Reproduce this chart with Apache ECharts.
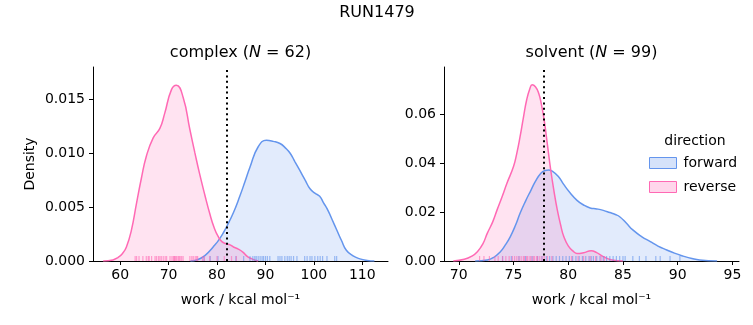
<!DOCTYPE html>
<html>
<head>
<meta charset="utf-8">
<script src="https://cdn.jsdelivr.net/npm/echarts@6/dist/echarts.min.js"></script>
<style>html,body{margin:0;padding:0;background:#fff}#c{width:753px;height:325px}</style>
</head>
<body>
<div id="c"></div>
<script>
// ---- Data ----
const complexXTicks = [60, 70, 80, 90, 100, 110];
const complexYTicks = [0, 0.005, 0.010, 0.015];
const solventXTicks = [70, 75, 80, 85, 90, 95];
const solventYTicks = [0, 0.02, 0.04, 0.06];

const complexDeltaF = 82.06;
const solventDeltaF = 77.75;

const complexRevKdeX = [56.5,58.5,59.5,60.5,61.3,62.3,63.4,64.4,65.4,66.8,68.2,69.2,70.6,71.6,73.0,74.4,75.4,76.4,77.5,78.5,79.4,80.2,81.0,81.9,82.7,83.4,84.4,85.4,86.3,87.2,88.5];
const complexRevKdeY = [0,0.0001,0.0003,0.0007,0.0013,0.0028,0.0054,0.0077,0.0097,0.0114,0.0123,0.0137,0.0159,0.0163,0.0152,0.0122,0.0101,0.0081,0.0061,0.0044,0.0031,0.0023,0.0018,0.0016,0.0015,0.0013,0.0011,0.0008,0.0004,0.0002,0];
const complexFwdKdeX = [74.5,75.8,77.5,79.2,80.6,82.0,83.4,84.7,85.8,86.8,88.5,90.2,91.6,93.0,94.1,95.1,96.1,97.1,98.2,99.2,100.2,101.2,102.0,102.9,103.8,104.7,105.7,106.7,108.0,109.5,111.0,112.5];
const complexFwdKdeY = [0,0.0001,0.0005,0.0013,0.0021,0.0032,0.0045,0.0060,0.0074,0.0087,0.0106,0.0112,0.0111,0.0109,0.0105,0.0100,0.0092,0.0084,0.0075,0.0067,0.0063,0.0060,0.0054,0.0047,0.0038,0.0029,0.0019,0.0010,0.0005,0.0002,0.00005,0];

const solventRevKdeX = [69.5,70.5,71.2,71.7,72.2,72.6,73.1,73.5,74.0,74.4,75.0,75.3,75.6,75.9,76.2,76.5,76.7,77.0,77.3,77.55,77.8,78.1,78.4,78.7,79.0,79.3,79.6,80.0,80.5,80.8,81.4,82.1,82.6,83.2,84.0,85.0];
const solventRevKdeY = [0,0.0007,0.0020,0.0038,0.0070,0.0113,0.0160,0.0209,0.0268,0.0318,0.0386,0.0440,0.0508,0.0585,0.0658,0.0705,0.0720,0.0712,0.0686,0.0640,0.0577,0.0475,0.0372,0.0285,0.0209,0.0148,0.0099,0.0062,0.0038,0.0031,0.0034,0.0042,0.0034,0.0018,0.0004,0];
const solventFwdKdeX = [71.5,72.6,73.2,73.8,74.2,74.7,75.2,75.6,76.1,76.6,77.0,77.5,77.9,78.2,78.6,79.1,79.6,80.2,80.8,81.4,82.0,82.6,83.2,83.8,84.3,84.7,85.3,85.9,86.7,87.5,88.2,89.0,89.7,90.5,91.3,92.0,93.6];
const solventFwdKdeY = [0,0.0004,0.0015,0.0038,0.0062,0.0099,0.0148,0.0195,0.0245,0.0290,0.0325,0.0359,0.0370,0.0372,0.0365,0.0345,0.0312,0.0277,0.0248,0.0229,0.0217,0.0213,0.0207,0.0198,0.0190,0.0181,0.0155,0.0127,0.0100,0.0079,0.0061,0.0045,0.0032,0.0020,0.0010,0.0004,0];

const complexRevRug = [63.1,63.4,63.9,64.7,65.4,65.8,66.0,66.5,67.2,67.5,67.9,68.2,68.5,68.9,69.3,69.6,70.3,70.7,71.0,71.2,71.3,71.5,71.7,72.0,72.2,72.4,72.7,73.0,74.4,74.8,75.1,75.5,75.8,76.0,77.0,77.4,78.5,80.0,81.5,83.0,84.0];
const complexFwdRug = [77.3,78.6,80.2,83.9,85.5,86.8,87.4,87.8,88.1,88.5,88.9,89.3,89.6,90.0,90.4,90.9,92.6,93.0,93.4,94.0,94.5,94.9,95.3,95.8,96.5,98.1,98.6,99.2,99.6,100.2,100.8,101.3,101.8,102.7,104.3,104.7];
const solventRevRug = [71.9,72.3,72.8,73.3,73.6,74.0,74.3,74.6,74.9,75.1,75.3,75.5,75.7,75.9,76.0,76.2,76.3,76.5,76.6,76.8,76.9,77.1,77.2,77.4,77.6,77.8,78.1,78.5,80.3,80.9,81.4,82.0,82.5,83.0,83.3];
const solventFwdRug = [74.0,74.8,75.5,76.1,76.7,77.2,77.6,78.0,78.3,78.6,78.9,79.2,79.5,79.8,80.1,80.4,80.7,81.0,81.3,81.6,81.9,82.1,82.3,82.6,82.9,83.2,83.5,83.8,84.1,84.4,84.7,85.0,85.2,85.9,86.5,87.1,88.0,88.4,89.3,90.2];

// ---- Styles ----
const FWD = '#6495ED', REV = '#FF69B4';
const FWD_FILL = 'rgba(100,149,237,0.27)', REV_FILL = 'rgba(255,105,180,0.27)';
const FONT = 'DejaVu Sans';

function pairs(xs, ys) { return xs.map((x, i) => [x, ys[i]]); }
function rug(vals) { return vals.map(v => [v, 0]); }

function kde(name, xs, ys, color, fill, idx, markX) {
  const s = {
    type: 'line', name: name, xAxisIndex: idx, yAxisIndex: idx,
    data: pairs(xs, ys), smooth: 0.5, showSymbol: false, symbol: 'none',
    lineStyle: { color: color, width: 1.5 }, itemStyle: { color: color },
    areaStyle: { color: fill, origin: 'start' }, silent: true, z: 2
  };
  if (markX !== undefined) {
    s.markLine = {
      silent: true, symbol: ['none', 'none'], label: { show: false },
      lineStyle: { color: '#000', type: [2, 3.4], width: 2 },
      data: [{ xAxis: markX }], animation: false
    };
  }
  return s;
}
function rugSeries(name, vals, color, idx) {
  return {
    type: 'scatter', name: name, xAxisIndex: idx, yAxisIndex: idx,
    data: rug(vals), symbol: 'rect', symbolSize: [1.2, 5], symbolOffset: [0, -2.5],
    itemStyle: { color: color, opacity: 0.6 }, silent: true, z: 3
  };
}
function xAxis(idx, min, max, ticks) {
  return {
    type: 'value', gridIndex: idx, min: min, max: max,
    name: 'work / kcal mol\u207B\u00B9', nameLocation: 'middle', nameGap: 32,
    nameTextStyle: { fontFamily: FONT, fontSize: 14, color: '#000' },
    axisLine: { show: true, lineStyle: { color: '#000', width: 1 } },
    axisTick: { show: true, length: 4, lineStyle: { color: '#000', width: 1 }, customValues: ticks },
    axisLabel: { fontFamily: FONT, fontSize: 14, color: '#000', margin: 7, customValues: ticks, formatter: v => String(Math.round(v)) },
    splitLine: { show: false }
  };
}
function yAxis(idx, max, ticks, dec, name) {
  return {
    type: 'value', gridIndex: idx, min: 0, max: max,
    name: name || '', nameLocation: 'middle', nameGap: 56,
    nameTextStyle: { fontFamily: FONT, fontSize: 14, color: '#000' },
    axisLine: { show: true, lineStyle: { color: '#000', width: 1 } },
    axisTick: { show: true, length: 4, lineStyle: { color: '#000', width: 1 }, customValues: ticks },
    axisLabel: { fontFamily: FONT, fontSize: 14, color: '#000', margin: 8, customValues: ticks, formatter: v => v.toFixed(dec) },
    splitLine: { show: false }
  };
}

const chart = echarts.init(document.getElementById('c'), null, { renderer: 'canvas' });
chart.setOption({
  animation: false,
  backgroundColor: '#fff',
  title: [
    { text: 'RUN1479', left: 377, top: 5, padding: 0, textAlign: 'center', textStyle: { fontFamily: FONT, fontSize: 16, fontWeight: 'normal', color: '#000' } },
    { text: 'complex ({i|N} = 62)', left: 240.5, top: 45, padding: 0, textAlign: 'center',
      textStyle: { fontFamily: FONT, fontSize: 16, fontWeight: 'normal', color: '#000', rich: { i: { fontFamily: FONT, fontSize: 16, fontStyle: 'italic', color: '#000' } } } },
    { text: 'solvent ({i|N} = 99)', left: 591.5, top: 45, padding: 0, textAlign: 'center',
      textStyle: { fontFamily: FONT, fontSize: 16, fontWeight: 'normal', color: '#000', rich: { i: { fontFamily: FONT, fontSize: 16, fontStyle: 'italic', color: '#000' } } } },
    { text: 'direction', left: 695, top: 134, padding: 0, textAlign: 'center', textStyle: { fontFamily: FONT, fontSize: 14, fontWeight: 'normal', color: '#000' } }
  ],
  legend: {
    orient: 'vertical', left: 649, top: 156, padding: 0, itemWidth: 27, itemHeight: 11, itemGap: 10,
    textStyle: { fontFamily: FONT, fontSize: 14, color: '#000', padding: [0, 0, 0, 2] },
    selectedMode: false,
    data: [
      { name: 'forward', icon: 'rect', itemStyle: { color: FWD_FILL, borderColor: FWD, borderWidth: 1, opacity: 1 } },
      { name: 'reverse', icon: 'rect', itemStyle: { color: REV_FILL, borderColor: REV, borderWidth: 1, opacity: 1 } }
    ]
  },
  grid: [
    { left: 93, top: 67, width: 295, height: 194 },
    { left: 444, top: 67, width: 295, height: 194 }
  ],
  xAxis: [
    xAxis(0, 54.4, 115.3, complexXTicks),
    xAxis(1, 68.65, 95.6, solventXTicks)
  ],
  yAxis: [
    yAxis(0, 0.018, complexYTicks, 3, 'Density'),
    yAxis(1, 0.0793, solventYTicks, 2, '')
  ],
  series: [
    kde('fwd-kde-c', complexFwdKdeX, complexFwdKdeY, FWD, FWD_FILL, 0),
    kde('rev-kde-c', complexRevKdeX, complexRevKdeY, REV, REV_FILL, 0, complexDeltaF),
    rugSeries('forward', complexFwdRug, FWD, 0),
    rugSeries('reverse', complexRevRug, REV, 0),
    kde('fwd-kde-s', solventFwdKdeX, solventFwdKdeY, FWD, FWD_FILL, 1),
    kde('rev-kde-s', solventRevKdeX, solventRevKdeY, REV, REV_FILL, 1, solventDeltaF),
    rugSeries('forward', solventFwdRug, FWD, 1),
    rugSeries('reverse', solventRevRug, REV, 1)
  ]
});
</script>
</body>
</html>
